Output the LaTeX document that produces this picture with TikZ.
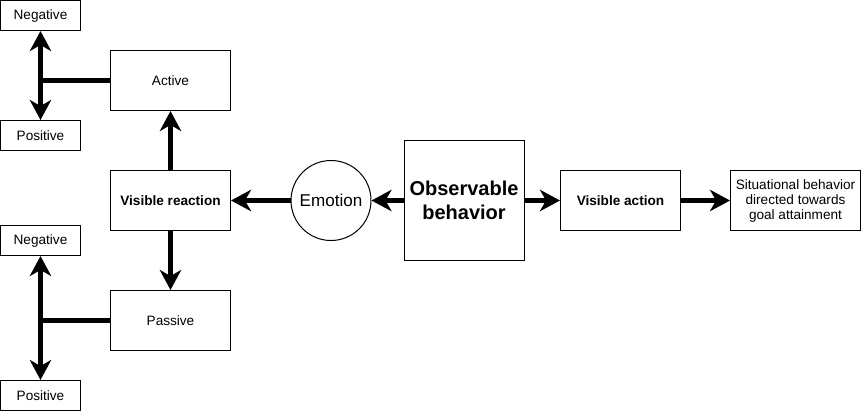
\documentclass[tikz,border=0pt]{standalone}
\usepackage{fontspec}
\setmainfont{Liberation Sans}
\usetikzlibrary{arrows.meta}

\begin{document}
\begin{tikzpicture}[x=0.75pt,y=-0.75pt,
  box/.style={draw,line width=0.75pt,minimum width=90pt,minimum height=45pt,inner sep=0pt,align=center,font=\fontsize{10.2}{11.25}\selectfont},
  smallbox/.style={box,minimum width=60pt,minimum height=22.5pt},
  arr/.style={line width=3.2pt,-{Stealth[length=15pt,width=16pt,inset=4.5pt]}}]
\useasboundingbox (0,0) rectangle (861,411);

% left side
\node[smallbox] (neg1) at (40.5,15.5) {Negative};
\node[smallbox] (pos1) at (40.5,135.5) {Positive};
\node[box] (active) at (170.5,80.5) {Active};
\node[box,font=\fontsize{10.2}{11.25}\selectfont\bfseries] (react) at (170.5,200.5) {Visible reaction};
\node[smallbox] (neg2) at (40.5,240.5) {Negative};
\node[box] (passive) at (170.5,320.5) {Passive};
\node[smallbox] (pos2) at (40.5,395.5) {Positive};

% middle and right
\node[circle,draw,line width=0.75pt,minimum size=60pt,inner sep=0pt,font=\fontsize{12.8}{15}\selectfont] (emo) at (331,200.5) {Emotion};
\node[box,minimum width=90pt,minimum height=90pt,font=\fontsize{15}{18}\selectfont\bfseries] (obs) at (464,200.5) {Observable\\behavior};
\node[box,font=\fontsize{10.2}{11.25}\selectfont\bfseries] (vact) at (620.5,200.5) {Visible action};
\node[box,minimum width=97.5pt] (goal) at (795.5,200.5) {Situational behavior\\directed towards\\goal attainment};

\draw[arr] (active.west) -| (neg1.south);
\draw[arr] (active.west) -| (pos1.north);
\draw[arr] (passive.west) -| (neg2.south);
\draw[arr] (passive.west) -| (pos2.north);
\draw[arr] (react) -- (active);
\draw[arr] (react) -- (passive);
\draw[arr] (emo) -- (react);
\draw[arr] (obs) -- (emo);
\draw[arr] (obs) -- (vact);
\draw[arr] (vact) -- (goal);
\end{tikzpicture}
\end{document}
